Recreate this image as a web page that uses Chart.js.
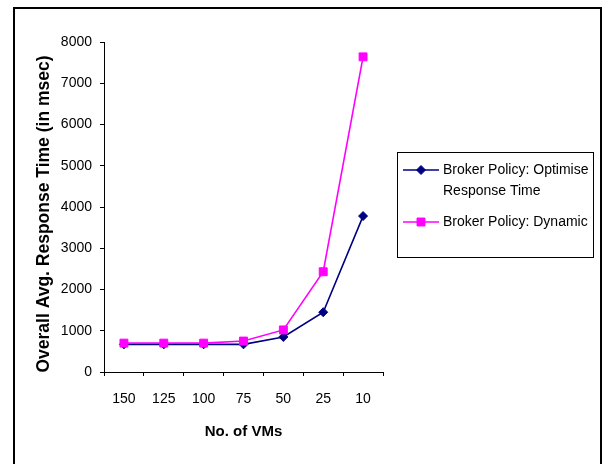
<!DOCTYPE html>
<html>
<head>
<meta charset="utf-8">
<style>
  html, body { margin: 0; padding: 0; background: #fff; }
  canvas { display: block; }
</style>
<script src="https://cdn.jsdelivr.net/npm/chart.js@4/dist/chart.umd.min.js"></script>
</head>
<body>
<canvas id="chart" width="604" height="464"></canvas>
<script>
// Number of VMs on the x axis (categories)
const vmCounts = ['150', '125', '100', '75', '50', '25', '10'];
// Overall average response time (msec) per broker policy
const optimiseResponse = [670, 670, 670, 670, 850, 1450, 3780];
const dynamicResponse = [700, 700, 700, 750, 1020, 2430, 7640];
// Series names
const seriesNames = ['Broker Policy: Optimise Response Time', 'Broker Policy: Dynamic'];
// Value axis range and step
const yMin = 0;
const yMax = 8000;
const yStep = 1000;
// Axis titles
const xTitle = 'No. of VMs';
const yTitle = 'Overall Avg. Response Time (in msec)';

const FONT = '"Liberation Sans", Arial, Helvetica, sans-serif';
Chart.defaults.font.family = FONT;
Chart.defaults.color = '#000';

function wrapText(ctx, text, maxWidth) {
  const words = text.split(' ');
  const lines = [];
  let line = '';
  for (const w of words) {
    const test = line ? line + ' ' + w : w;
    if (line && ctx.measureText(test).width > maxWidth) {
      lines.push(line);
      line = w;
    } else {
      line = test;
    }
  }
  if (line) lines.push(line);
  return lines;
}

// Frame, rotated value-axis title and boxed legend
const decorations = {
  id: 'decorations',
  afterDraw(chart) {
    const ctx = chart.ctx;

    ctx.save();
    ctx.strokeStyle = '#000';
    ctx.lineWidth = 2;
    ctx.strokeRect(14, 8, 587, 480);
    ctx.restore();

    ctx.save();
    ctx.font = 'bold 17.5px ' + FONT;
    ctx.fillStyle = '#000';
    ctx.textAlign = 'center';
    ctx.textBaseline = 'middle';
    ctx.translate(44.5, 214);
    ctx.rotate(-Math.PI / 2);
    ctx.fillText(yTitle, 0, 0);
    ctx.restore();

    ctx.save();
    ctx.strokeStyle = '#000';
    ctx.lineWidth = 1;
    ctx.strokeRect(397.5, 152.5, 196, 105);
    ctx.font = '14px ' + FONT;
    ctx.textAlign = 'left';
    ctx.textBaseline = 'middle';
    let y = 170;
    chart.data.datasets.forEach(ds => {
      const lines = wrapText(ctx, ds.label, 150);
      ctx.strokeStyle = ds.borderColor;
      ctx.lineWidth = ds.borderWidth;
      ctx.beginPath();
      ctx.moveTo(403, y);
      ctx.lineTo(439, y);
      ctx.stroke();
      ctx.fillStyle = ds.pointBackgroundColor;
      ctx.strokeStyle = ds.pointBorderColor;
      ctx.lineWidth = 1;
      Chart.helpers.drawPoint(ctx, {
        pointStyle: ds.pointStyle,
        radius: ds.pointRadius,
        borderWidth: 1,
        rotation: 0
      }, 421, y);
      ctx.fillStyle = '#000';
      lines.forEach((l, i) => ctx.fillText(l, 443, y + i * 21));
      y += (lines.length - 1) * 21 + 31;
    });
    ctx.restore();
  }
};

new Chart(document.getElementById('chart'), {
  type: 'line',
  data: {
    labels: vmCounts,
    datasets: [
      {
        label: seriesNames[0],
        data: optimiseResponse,
        borderColor: '#000080',
        backgroundColor: '#000080',
        pointBackgroundColor: '#000080',
        pointBorderColor: '#000080',
        borderWidth: 1.6,
        pointStyle: 'rectRot',
        pointRadius: 4.5,
        pointBorderWidth: 1,
        tension: 0,
        order: 1
      },
      {
        label: seriesNames[1],
        data: dynamicResponse,
        borderColor: '#FF00FF',
        backgroundColor: '#FF00FF',
        pointBackgroundColor: '#FF00FF',
        pointBorderColor: '#FF00FF',
        borderWidth: 1.6,
        pointStyle: 'rect',
        pointRadius: 5.6,
        pointBorderWidth: 1,
        tension: 0,
        order: 0
      }
    ]
  },
  options: {
    responsive: false,
    devicePixelRatio: 1,
    animation: false,
    events: [],
    layout: { padding: { left: 14, right: 221, top: 42, bottom: 0 } },
    plugins: {
      legend: { display: false },
      tooltip: { enabled: false }
    },
    scales: {
      x: {
        type: 'category',
        offset: true,
        afterFit(scale) { scale.height = 92; },
        grid: {
          offset: true,
          drawOnChartArea: false,
          drawTicks: true,
          tickLength: 4,
          color: '#000',
          lineWidth: 1
        },
        border: { display: true, color: '#000', width: 1 },
        ticks: {
          font: { size: 14 },
          color: '#000',
          padding: 15,
          maxRotation: 0,
          autoSkip: false
        },
        title: {
          display: true,
          text: xTitle,
          font: { size: 15, weight: 'bold' },
          color: '#000',
          padding: { top: 0, bottom: 23 }
        }
      },
      y: {
        min: yMin,
        max: yMax,
        afterFit(scale) { scale.width = 90; },
        grid: {
          drawOnChartArea: false,
          drawTicks: true,
          tickLength: 4,
          color: '#000',
          lineWidth: 1
        },
        border: { display: true, color: '#000', width: 1 },
        ticks: {
          stepSize: yStep,
          font: { size: 14 },
          color: '#000',
          padding: 8,
          callback: value => String(value)
        }
      }
    }
  },
  plugins: [decorations]
});
</script>
</body>
</html>
